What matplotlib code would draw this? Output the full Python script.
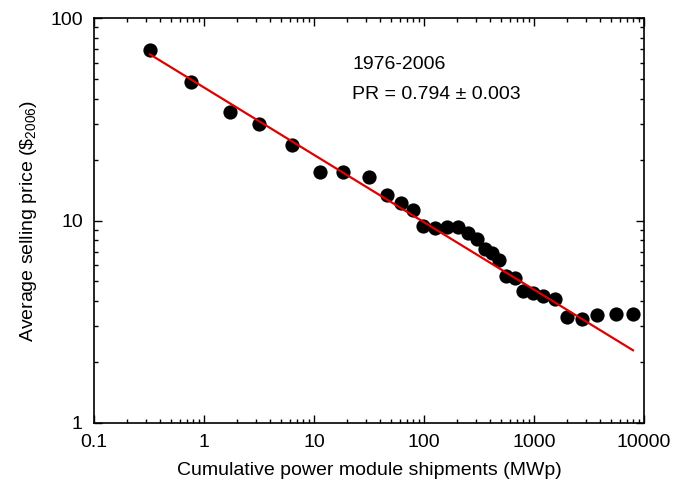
import numpy as np
import matplotlib
matplotlib.use("Agg")
import matplotlib.pyplot as plt
from matplotlib.ticker import LogLocator, FixedLocator, FixedFormatter, NullFormatter

plt.rcParams['font.family'] = ['Liberation Sans', 'DejaVu Sans']
plt.rcParams['mathtext.fontset'] = 'custom'
plt.rcParams['mathtext.rm'] = 'Liberation Sans'
plt.rcParams['mathtext.default'] = 'rm'

# cumulative shipments (MWp) and average selling price ($2006), 1976-2006
shipments = [0.323, 0.762, 1.72, 3.16, 6.3, 11.3, 18.4, 31.6, 46.1, 61.8,
             79.4, 97.9, 126, 162, 204, 251, 303, 359, 415, 481,
             556, 672, 794, 979, 1207, 1552, 1995, 2731, 3740, 5565, 7943]
price = [69.5, 48.3, 34.3, 30.0, 23.5, 17.4, 17.4, 16.4, 13.4, 12.2,
         11.3, 9.4, 9.2, 9.3, 9.3, 8.7, 8.1, 7.2, 6.9, 6.4,
         5.3, 5.2, 4.5, 4.4, 4.25, 4.1, 3.35, 3.26, 3.4, 3.45, 3.45]

# learning curve fit: price = c * x**log2(PR)
pr = 0.794
fit_c = 45.4
fit_range = [0.323, 7943]

fig = plt.figure(figsize=(6.87, 4.91), dpi=100)
ax = fig.add_axes([0.1368, 0.1385, 0.8006, 0.8248])

ax.scatter(shipments, price, s=105, color='black', zorder=2, linewidths=0)
fx = np.array(fit_range)
ax.plot(fx, fit_c * fx ** np.log2(pr), color='#e00000', lw=1.6, zorder=3)

ax.set_xscale('log')
ax.set_yscale('log')
ax.set_xlim(0.1, 10000)
ax.set_ylim(1, 100)

xt = [0.1, 1, 10, 100, 1000, 10000]
ax.xaxis.set_major_locator(FixedLocator(xt))
ax.xaxis.set_major_formatter(FixedFormatter(['0.1', '1', '10', '100', '1000', '10000']))
yt = [1, 10, 100]
ax.yaxis.set_major_locator(FixedLocator(yt))
ax.yaxis.set_major_formatter(FixedFormatter(['1', '10', '100']))
for a in (ax.xaxis, ax.yaxis):
    a.set_minor_locator(LogLocator(base=10, subs=np.arange(2, 10), numticks=20))
    a.set_minor_formatter(NullFormatter())

ax.tick_params(which='both', direction='in', top=True, right=True,
               width=1.0, labelsize=14, color='black')
ax.tick_params(which='major', length=6, pad=8)
ax.tick_params(which='minor', length=3)
for sp in ax.spines.values():
    sp.set_linewidth(1.2)

ax.set_xlabel('Cumulative power module shipments (MWp)', fontsize=14, labelpad=8)
ax.set_ylabel(r'Average selling price (\$$_{2006}$)', fontsize=14, labelpad=8)

ax.text(0.47, 0.885, '1976-2006', transform=ax.transAxes, fontsize=14, va='center')
ax.text(0.47, 0.81, 'PR = 0.794 \u00b1 0.003', transform=ax.transAxes, fontsize=14, va='center')

fig.savefig('out.png', dpi=100)
